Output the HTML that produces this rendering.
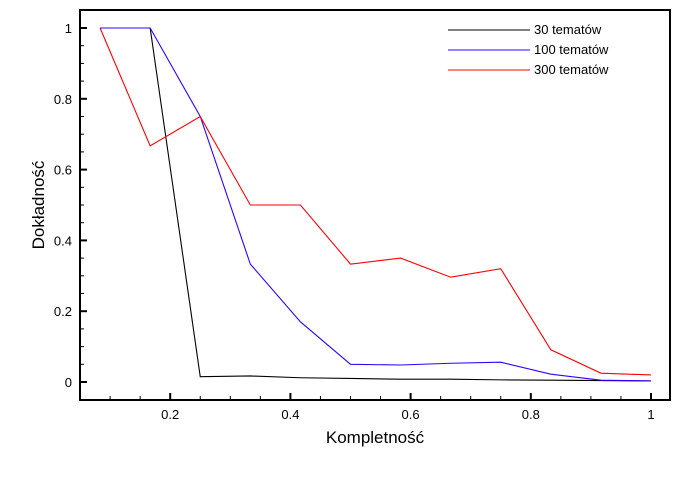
<!DOCTYPE html>
<html><head><meta charset="utf-8"><style>
html,body{margin:0;padding:0;background:#fff;}
svg{display:block;font-family:"Liberation Sans",sans-serif;}
</style></head><body>
<svg id="chart" width="680" height="480">
<g id="axes"></g><g id="series"></g><g id="legend"></g>
</svg>
<script>
const xValues=[1/12,2/12,3/12,4/12,5/12,6/12,7/12,8/12,9/12,10/12,11/12,1];
const series30=[1,1,0.015,0.017,0.012,0.01,0.008,0.008,0.006,0.005,0.004,0.003];
const series100=[1,1,0.75,0.333,0.17,0.05,0.048,0.053,0.056,0.022,0.005,0.003];
const series300=[1,0.667,0.75,0.5,0.5,0.333,0.35,0.296,0.32,0.091,0.025,0.02];
const seriesNames=["30 tematów","100 tematów","300 tematów"];
const xTicks=[0.2,0.4,0.6,0.8,1];
const yTicks=[0,0.2,0.4,0.6,0.8,1];
const xTickLabels=["0.2","0.4","0.6","0.8","1"];
const yTickLabels=["0","0.2","0.4","0.6","0.8","1"];
const colors=["#000","#3300ff","#ff0000"];
const NS="http://www.w3.org/2000/svg";
const L=80,R=670,T=10,B=400;
function xs(v){return 50+v*601;}
function ys(v){return 382-v*354;}
function mk(tag,attrs,parent){const e=document.createElementNS(NS,tag);for(const k in attrs)e.setAttribute(k,attrs[k]);parent.appendChild(e);return e;}
const axes=document.getElementById('axes');
const frame=mk('rect',{x:L,y:T,width:R-L,height:B-T,fill:'none',stroke:'#000','stroke-width':2},axes);


for(let v=0.1;v<=1.0001;v+=0.05){
  const major=Math.abs(v*5-Math.round(v*5))<1e-6;
  const t=mk('line',{x1:xs(v),x2:xs(v),y1:B,y2:B-(major?7:4),stroke:'#000','stroke-width':major?2:1},axes);
  
  
}
for(let v=0;v<=1.0001;v+=0.05){
  const major=Math.abs(v*5-Math.round(v*5))<1e-6;
  const t=mk('line',{x1:L,x2:L+(major?7:4),y1:ys(v),y2:ys(v),stroke:'#000','stroke-width':major?2:1},axes);
  
  
}
xTicks.forEach((v,i)=>{const t=mk('text',{x:xs(v),y:B+19,'text-anchor':'middle','font-size':13},axes);t.textContent=xTickLabels[i];

});
yTicks.forEach((v,i)=>{const t=mk('text',{x:72,y:ys(v)+5,'text-anchor':'end','font-size':13},axes);t.textContent=yTickLabels[i];

});
const xt=mk('text',{x:375,y:443,'text-anchor':'middle','font-size':17},axes);xt.textContent="Kompletność";


const yt=mk('text',{x:0,y:0,'text-anchor':'middle','font-size':17,transform:'translate(44,205) rotate(-90)'},axes);yt.textContent="Dokładność";


const sg=document.getElementById('series');
[series30,series100,series300].forEach((s,i)=>{
  const p=mk('polyline',{points:s.map((v,j)=>xs(xValues[j])+','+ys(v)).join(' '),fill:'none',stroke:colors[i],'stroke-width':1.1},sg);
  
  
});
const lg=document.getElementById('legend');
seriesNames.forEach((n,i)=>{
  const y=30+i*20;
  const l=mk('line',{x1:448,x2:530,y1:y,y2:y,stroke:colors[i],'stroke-width':1.1},lg);
  
  
  const t=mk('text',{x:534,y:y+4,'font-size':13},lg);t.textContent=n;
  
  
});
</script>
</body></html>
